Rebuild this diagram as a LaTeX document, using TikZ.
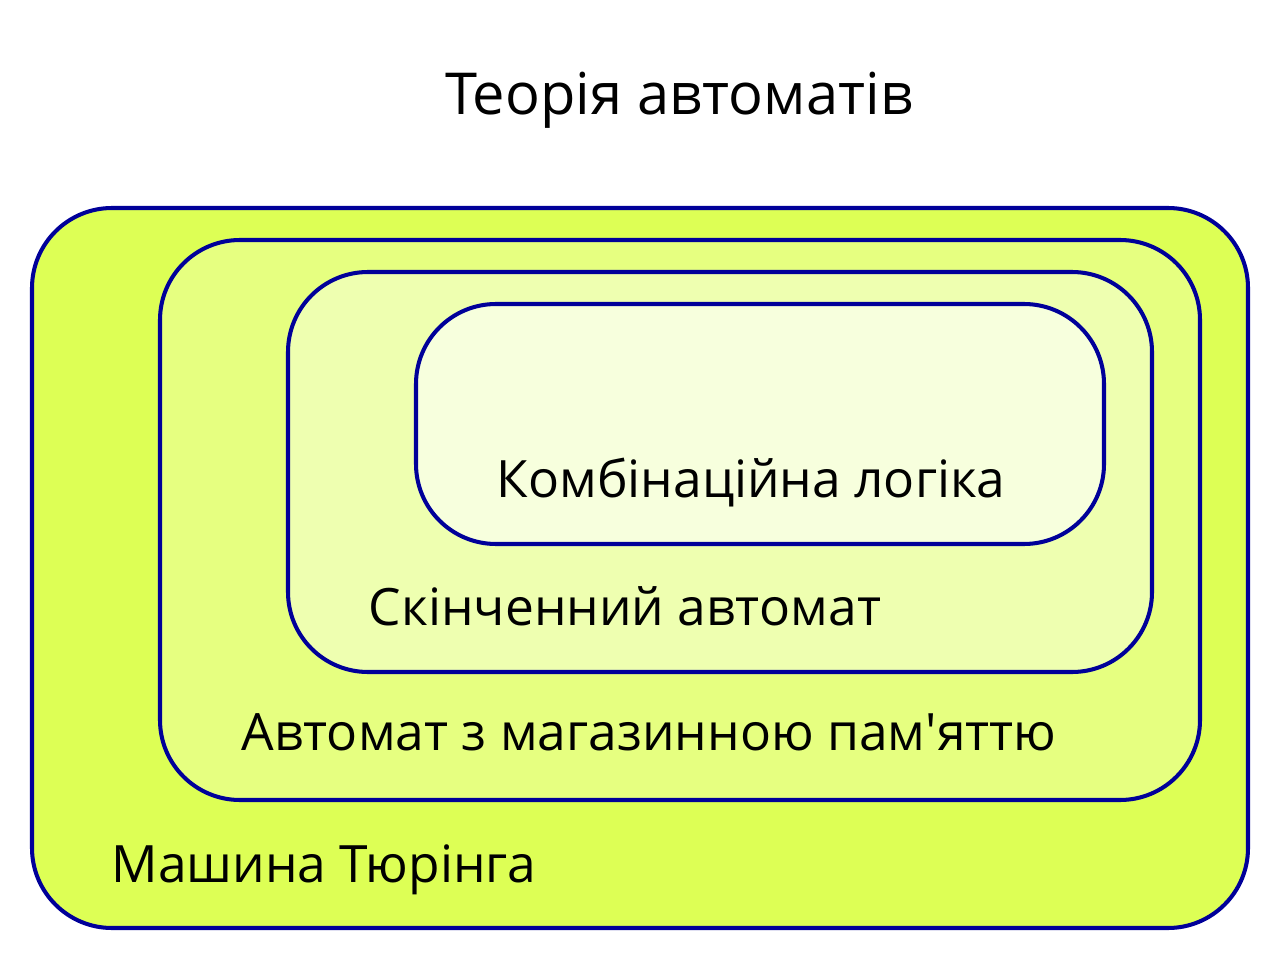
\documentclass[tikz,border=0pt]{standalone}
\usepackage{fontspec}
\setmainfont{Open Sans}[Ligatures=TeXOff]
\usetikzlibrary{positioning}

\definecolor{navyline}{HTML}{000099}
\definecolor{turingfill}{HTML}{DDFF55}
\definecolor{pushfill}{HTML}{E6FF80}
\definecolor{finitefill}{HTML}{EEFFB0}
\definecolor{combfill}{HTML}{F7FFDD}

\begin{document}
\begin{tikzpicture}[x=1cm, y=1cm]
    % Styles
    \tikzstyle{level} = [rectangle, rounded corners=1.6cm, draw=navyline, line width=2.3pt, inner sep=0pt]
    \tikzstyle{label} = [inner sep=0pt, font=\fontsize{29.3}{35}\selectfont]

    \useasboundingbox (0,0) rectangle (25.6,-19.2);

    % Nested automata classes
    \node[level, fill=turingfill, minimum width=24.32cm, minimum height=14.4cm] (turing) at (12.8,-11.36) {};
    \node[level, fill=pushfill, minimum width=20.8cm, minimum height=11.2cm] (pushdown) at (13.6,-10.4) {};
    \node[level, fill=finitefill, minimum width=17.28cm, minimum height=8cm] (finite) at (14.4,-9.44) {};
    \node[level, fill=combfill, minimum width=13.76cm, minimum height=4.8cm] (comb) at (15.2,-8.48) {};

    % Labels
    \node[label, anchor=base, font=\fontsize{32.9}{40}\selectfont] (title) at (13.58,-2.3) {Теорія автоматів};
    \node[label, anchor=base] (combtext) at (15.02,-9.94) {Комбінаційна логіка};
    \node[label, anchor=base] (finitetext) at (12.5,-12.5) {Скінченний автомат};
    \node[label, anchor=base] (pushtext) at (12.98,-15.0) {Автомат з магазинною пам'яттю};
    \node[label, anchor=base] (turingtext) at (6.48,-17.64) {Машина Тюрінга};
\end{tikzpicture}
\end{document}
